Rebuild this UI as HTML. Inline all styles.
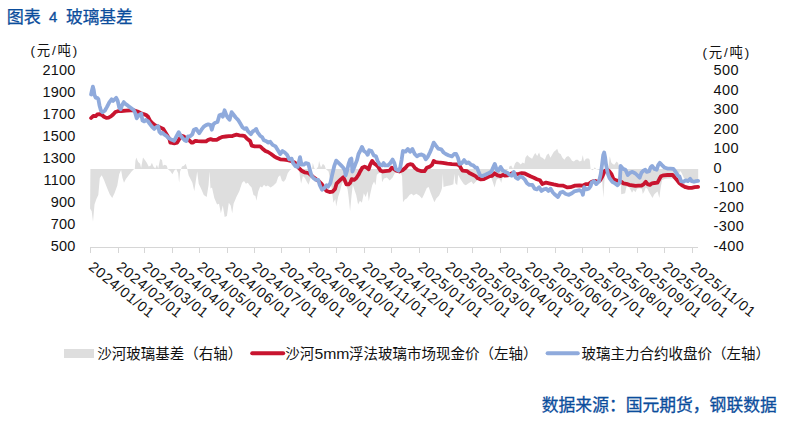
<!DOCTYPE html>
<html lang="zh">
<head>
<meta charset="utf-8">
<title>图表 4 玻璃基差</title>
<style>
html,body{margin:0;padding:0;background:#fff}
body{width:789px;height:423px;overflow:hidden;position:relative;font-family:"Liberation Sans","Noto Sans CJK SC",sans-serif}
svg{position:absolute;left:0;top:0;display:block}
svg text{font-family:"Liberation Sans","Noto Sans CJK SC",sans-serif}
</style>
</head>
<body>
<svg width="789" height="423" viewBox="0 0 789 423">
<rect width="789" height="423" fill="#ffffff"/>
<polygon points="90.4,169.0 90.1,208.4 91.7,211.3 93.0,221.8 94.5,204.6 96.4,198.9 98.3,195.1 99.8,178.0 101.7,175.2 104.0,179.9 106.9,187.5 109.7,194.2 112.2,198.0 114.5,193.2 117.3,185.6 119.2,174.2 121.1,170.0 122.5,178.0 124.0,182.8 125.9,179.0 128.7,175.2 131.6,171.4 134.1,169.1 134.8,169.1 135.4,160.9 136.3,157.5 138.2,161.9 140.1,163.8 141.1,168.1 143.0,157.5 144.9,160.0 146.8,162.8 148.7,166.6 150.6,165.7 151.9,162.8 153.4,166.6 155.3,168.5 156.9,164.7 158.2,168.5 160.1,159.0 162.0,160.0 162.9,165.7 164.8,164.7 166.8,165.7 167.7,169.1 170.6,171.4 172.4,174.2 174.3,170.4 176.2,169.1 178.2,173.3 179.1,182.8 180.1,171.4 182.0,166.6 183.9,165.7 185.8,163.8 187.3,169.1 188.6,175.2 190.5,179.0 192.4,182.8 194.3,191.3 195.8,180.9 197.2,171.4 198.7,183.7 201.0,188.5 203.8,195.1 206.7,197.0 208.6,184.7 209.5,171.4 210.5,188.5 212.0,187.5 214.3,198.0 217.1,204.6 219.0,203.7 220.9,213.2 222.8,205.6 224.7,217.0 226.9,216.1 228.8,202.7 230.7,205.6 232.2,213.2 233.6,203.7 236.4,197.0 239.3,191.3 242.1,182.8 244.0,180.9 245.9,183.7 247.8,182.8 249.7,185.6 251.6,187.5 253.5,195.1 255.4,196.1 256.4,200.8 258.3,191.3 260.2,186.6 262.1,187.5 264.0,184.7 265.9,186.6 267.8,185.6 270.6,187.5 273.5,185.6 276.3,182.8 278.2,177.1 280.1,175.2 282.0,180.9 283.9,181.8 285.8,179.0 287.7,173.3 289.6,170.4 291.5,169.1 299.1,169.1 300.1,178.0 301.1,183.7 302.9,176.1 304.9,178.0 306.8,181.8 308.6,184.7 310.6,178.0 312.1,169.1 312.8,162.8 314.4,168.5 316.2,169.5 318.2,166.6 319.1,160.9 320.1,164.7 321.0,167.6 322.9,163.8 324.8,165.7 325.8,169.1 328.6,171.4 331.5,187.5 333.4,202.7 335.3,198.9 336.2,206.5 338.1,197.0 340.0,191.3 341.9,183.7 343.8,179.9 345.7,183.7 347.6,189.4 348.6,197.0 350.1,211.3 351.4,197.0 352.8,184.7 354.3,189.4 356.2,195.1 358.1,204.6 360.0,200.8 361.9,202.7 363.8,193.2 365.7,197.0 367.6,191.3 368.8,201.3 370.3,193.7 372.2,185.2 374.1,181.4 375.5,185.2 376.8,174.7 379.3,172.8 381.2,171.9 382.1,182.3 384.0,178.5 386.9,177.6 389.7,180.4 392.6,177.6 394.5,173.8 396.4,170.9 400.2,170.0 402.1,176.6 403.0,202.3 404.9,199.4 406.8,198.5 409.7,194.7 411.6,193.7 413.5,195.6 416.3,193.7 419.2,195.6 422.0,198.5 423.9,194.7 426.8,188.0 428.7,187.1 430.6,192.8 432.5,197.5 434.4,202.3 436.3,198.5 439.1,195.6 441.1,190.9 442.0,188.0 442.8,173.8 443.5,187.1 446.8,186.1 450.6,185.2 453.4,184.2 454.4,173.8 455.3,183.3 457.2,185.2 458.2,174.7 460.1,178.5 462.0,181.4 463.9,184.2 465.8,185.2 468.6,183.3 471.5,181.4 473.4,184.2 475.3,182.3 476.9,180.4 478.9,177.9 481.4,175.8 484.5,175.3 487.5,175.3 490.6,176.3 492.6,181.4 494.6,187.5 495.6,183.5 496.7,179.4 498.7,178.4 500.2,179.9 501.2,182.9 501.9,179.4 503.3,176.3 504.8,173.8 506.3,171.3 507.9,169.2 508.9,169.0 509.3,166.4 511.2,165.4 513.1,169.0 515.0,163.5 516.9,161.6 518.8,162.6 520.7,164.5 522.6,162.6 524.5,163.5 525.4,157.8 527.3,155.0 529.2,156.9 532.1,158.8 534.0,155.0 535.3,153.1 537.2,155.9 539.1,152.5 540.6,156.9 542.5,157.8 544.8,159.7 546.7,155.0 548.6,153.6 550.5,157.8 552.0,155.0 553.9,151.7 555.8,150.2 557.2,148.7 558.7,153.1 560.6,154.0 562.5,157.8 564.4,159.7 566.3,156.9 568.2,155.9 570.1,157.8 572.0,160.7 573.9,161.6 575.8,159.7 577.7,159.7 579.6,161.6 581.5,160.7 582.8,155.0 584.0,161.6 585.9,158.8 588.2,158.2 589.7,159.7 590.6,169.0 592.9,170.2 594.8,167.3 596.1,169.0 601.5,171.1 603.4,197.7 604.3,182.5 605.3,169.0 608.2,168.9 609.8,156.3 611.3,162.4 612.8,163.9 614.3,164.7 616.6,161.6 618.1,163.1 619.7,168.9 620.4,168.9 621.2,194.3 622.3,193.9 625.1,193.3 626.3,187.6 628.0,185.4 630.3,189.3 632.0,192.8 633.7,189.9 635.4,192.2 637.1,188.8 639.4,188.2 641.7,188.8 642.8,193.9 644.5,191.1 645.7,187.6 647.4,188.8 649.1,192.2 650.8,195.1 652.5,197.9 654.2,194.5 655.9,192.8 657.6,191.6 659.4,197.9 660.5,188.8 661.3,184.2 662.2,179.9 665.6,178.7 669.0,178.5 673.0,178.5 678.5,178.1 679.7,171.6 680.5,171.3 681.7,173.0 682.9,175.8 684.0,178.2 686.0,179.1 688.4,180.2 693.0,179.9 698.1,179.9 698.2,179.9 698.2,169.0" fill="#dedede"/>
<g stroke="#d6d6d6" stroke-width="1" fill="none" shape-rendering="crispEdges">
<line x1="90.4" y1="247.1" x2="698.2" y2="247.1"/>
<line x1="90.5" y1="247.1" x2="90.5" y2="253.1"/>
<line x1="118.4" y1="247.1" x2="118.4" y2="253.1"/>
<line x1="144.4" y1="247.1" x2="144.4" y2="253.1"/>
<line x1="172.3" y1="247.1" x2="172.3" y2="253.1"/>
<line x1="199.2" y1="247.1" x2="199.2" y2="253.1"/>
<line x1="227.1" y1="247.1" x2="227.1" y2="253.1"/>
<line x1="254.0" y1="247.1" x2="254.0" y2="253.1"/>
<line x1="281.9" y1="247.1" x2="281.9" y2="253.1"/>
<line x1="309.7" y1="247.1" x2="309.7" y2="253.1"/>
<line x1="336.7" y1="247.1" x2="336.7" y2="253.1"/>
<line x1="364.5" y1="247.1" x2="364.5" y2="253.1"/>
<line x1="391.5" y1="247.1" x2="391.5" y2="253.1"/>
<line x1="419.4" y1="247.1" x2="419.4" y2="253.1"/>
<line x1="447.2" y1="247.1" x2="447.2" y2="253.1"/>
<line x1="472.4" y1="247.1" x2="472.4" y2="253.1"/>
<line x1="500.2" y1="247.1" x2="500.2" y2="253.1"/>
<line x1="527.2" y1="247.1" x2="527.2" y2="253.1"/>
<line x1="555.0" y1="247.1" x2="555.0" y2="253.1"/>
<line x1="582.0" y1="247.1" x2="582.0" y2="253.1"/>
<line x1="609.8" y1="247.1" x2="609.8" y2="253.1"/>
<line x1="637.7" y1="247.1" x2="637.7" y2="253.1"/>
<line x1="664.6" y1="247.1" x2="664.6" y2="253.1"/>
<line x1="692.5" y1="247.1" x2="692.5" y2="253.1"/>
</g>
<polyline points="91.1,118.0 93.4,115.8 95.7,116.1 97.2,114.5 99.5,114.2 101.7,114.8 104.0,116.8 106.3,117.9 108.6,117.6 110.9,116.4 113.1,114.5 115.4,112.0 117.7,111.2 121.5,111.0 126.1,110.7 130.6,110.4 133.7,110.3 137.5,111.5 140.5,113.0 143.6,114.2 145.8,114.8 148.1,116.8 149.6,119.9 151.9,122.9 155.0,125.2 158.0,126.4 161.1,127.9 163.3,129.0 165.6,132.8 167.9,136.6 169.4,138.9 170.3,142.6 172.6,143.0 174.9,143.3 177.2,142.6 179.4,138.8 181.7,135.7 184.0,136.5 186.3,138.8 189.3,140.3 191.6,142.6 193.1,142.6 195.4,140.8 197.7,141.1 201.5,141.4 206.1,141.4 208.3,139.8 210.6,139.2 212.9,139.8 216.7,139.8 219.8,138.0 222.8,136.8 225.8,136.5 228.9,136.2 231.9,136.2 234.2,135.3 236.5,134.7 239.5,135.3 242.6,135.7 244.8,136.2 247.1,138.8 250.2,141.1 251.7,145.6 254.7,146.4 260.1,146.4 262.3,148.4 265.4,150.9 268.0,152.0 271.1,154.0 274.1,156.3 277.2,158.1 280.2,159.3 284.0,159.6 287.8,160.1 291.6,161.2 294.7,162.4 296.2,164.7 298.5,167.7 301.5,170.7 304.5,172.3 308.4,173.0 310.6,174.8 312.9,176.8 315.9,179.1 319.0,181.4 322.0,184.4 324.3,188.2 326.6,191.0 329.6,192.0 332.7,191.6 335.0,189.0 336.5,183.7 338.8,181.4 341.1,179.1 343.3,177.3 344.9,180.6 346.4,184.4 348.6,184.4 350.2,182.9 351.7,179.1 354.0,179.9 356.2,178.3 358.5,174.8 360.1,171.5 362.3,167.7 364.6,166.6 366.9,167.7 368.7,169.2 370.2,164.7 372.2,160.9 373.8,163.1 376.0,164.7 378.3,166.9 380.6,170.7 382.9,171.5 385.0,171.1 389.6,170.7 391.8,167.7 394.1,169.2 396.4,170.7 399.4,171.5 402.5,170.3 405.5,167.7 407.8,165.0 410.1,164.2 412.4,164.7 414.7,167.7 417.7,170.0 421.5,171.2 424.5,171.2 426.8,167.7 429.9,166.6 432.1,164.7 433.7,160.9 435.9,162.1 438.2,162.4 442.8,162.8 447.4,163.6 451.9,164.2 456.5,164.3 459.5,165.4 461.1,168.5 462.6,170.7 467.1,171.1 469.4,173.0 472.4,174.5 475.5,176.1 477.8,178.3 480.8,179.4 483.9,179.1 486.9,177.6 489.9,176.1 492.2,175.8 494.5,173.3 497.6,175.3 500.6,176.1 502.9,174.8 505.0,175.7 508.0,175.3 511.1,173.8 513.4,172.7 515.6,174.2 518.7,173.8 521.7,173.2 524.8,173.5 527.8,175.0 530.9,176.5 533.9,177.7 536.9,179.2 540.0,180.3 542.3,184.1 546.1,182.6 549.1,183.3 553.7,184.4 558.2,185.3 562.8,185.6 567.4,187.4 570.4,187.2 575.0,185.6 579.5,185.3 582.6,185.6 585.6,184.1 588.6,184.1 591.7,181.8 594.7,180.8 597.8,181.8 600.1,180.3 602.3,176.5 604.6,171.2 606.9,169.7 609.2,171.2 611.5,174.2 613.3,178.8 616.0,180.3 619.1,181.1 621.4,181.8 623.2,183.3 626.3,183.8 629.3,184.9 632.4,185.3 635.4,185.9 638.5,185.6 641.5,185.6 643.8,184.1 645.8,181.8 647.6,184.1 649.9,184.9 652.1,183.3 654.4,183.0 657.5,182.6 659.5,178.8 661.0,176.2 663.6,175.3 667.4,175.0 672.7,175.0 675.0,177.7 677.2,180.3 679.5,183.3 682.6,185.6 685.6,187.2 688.6,187.9 691.7,187.9 694.7,187.2 698.1,186.8" fill="none" stroke="#c8142f" stroke-width="3.80" stroke-linejoin="round" stroke-linecap="round"/>
<polyline points="91.1,94.5 92.0,90.2 92.9,86.6 93.8,90.2 94.4,94.8 95.7,97.8 97.2,97.8 98.4,99.3 99.5,105.4 101.0,110.7 102.5,112.3 104.8,110.7 107.0,106.9 109.3,102.4 111.6,99.3 113.1,100.9 114.7,99.3 116.2,97.8 117.7,100.9 119.2,107.7 120.7,109.2 122.3,104.7 123.8,102.1 125.3,103.9 127.6,105.4 130.6,107.7 133.7,110.0 135.2,113.0 136.7,118.3 138.2,116.1 139.8,114.5 141.3,113.8 142.5,120.6 144.3,121.4 145.8,119.9 148.1,121.4 149.6,123.7 151.9,126.7 154.2,129.0 155.7,127.5 158.0,126.0 159.5,132.0 161.1,133.6 162.6,132.8 164.1,134.3 166.4,135.8 168.7,138.1 171.8,139.8 174.1,140.8 176.4,136.5 178.7,132.2 180.2,135.0 182.5,138.0 184.8,140.3 186.3,141.1 187.8,136.5 190.1,136.2 192.4,134.2 193.9,129.7 196.2,128.9 197.7,131.2 199.2,133.2 201.5,129.7 203.8,126.6 206.1,125.1 208.3,124.3 210.6,125.1 211.8,129.7 213.4,124.3 215.2,122.8 217.5,122.0 219.4,115.2 221.3,114.5 222.8,116.7 224.6,110.3 226.1,114.5 227.7,117.5 229.6,119.8 231.6,112.2 233.4,114.5 235.7,117.5 238.0,119.8 240.3,123.6 242.6,127.4 244.4,128.9 246.4,128.1 247.9,131.2 249.4,132.7 250.9,134.2 252.9,131.2 254.7,130.4 256.2,128.9 257.8,132.7 260.1,135.7 262.3,137.3 263.9,140.3 266.1,141.1 268.0,142.6 270.3,141.8 272.6,144.9 275.6,146.4 277.9,150.2 280.2,154.0 282.5,151.0 284.8,152.5 287.1,154.8 289.3,159.3 291.6,158.6 293.1,163.1 295.4,166.2 297.7,166.9 300.0,157.1 301.5,164.7 303.8,164.7 305.8,163.1 308.4,163.9 309.9,170.0 311.4,175.3 313.7,178.3 315.9,179.9 318.2,179.9 319.8,185.2 322.0,189.8 324.3,188.2 326.6,185.2 328.1,186.7 330.4,182.9 331.9,176.1 334.2,166.2 336.2,160.6 338.8,163.1 341.1,165.4 343.3,167.7 344.9,170.7 345.6,175.3 347.1,170.7 348.6,163.9 350.2,159.3 351.4,158.6 352.4,171.5 354.0,167.7 355.5,163.9 357.0,160.1 358.5,154.0 360.1,151.0 362.0,146.9 363.9,151.0 366.1,152.5 367.7,154.8 369.2,150.2 371.5,151.0 373.8,155.5 376.0,156.3 377.6,160.9 379.8,164.7 382.1,165.4 383.6,163.1 385.0,165.4 388.0,165.4 390.3,163.1 392.6,159.6 394.4,163.1 395.9,169.2 398.4,170.7 400.2,167.7 401.7,159.3 402.9,151.0 405.5,151.7 407.8,149.0 410.1,151.7 412.4,149.0 414.7,154.0 416.9,156.3 419.2,154.8 421.5,154.5 423.8,155.5 425.8,159.3 427.6,157.1 429.9,152.5 431.8,147.9 433.7,142.6 435.9,145.7 438.2,148.7 441.3,149.4 443.6,152.5 445.8,154.0 448.9,155.5 451.9,156.3 454.2,154.0 456.2,154.0 458.0,157.8 459.5,163.9 461.8,163.1 464.1,160.1 466.4,163.1 468.6,162.4 470.9,164.7 473.2,165.4 475.5,167.7 477.0,167.7 478.5,171.5 480.1,175.3 482.3,176.1 485.4,174.8 488.4,173.3 491.5,171.5 493.0,167.7 494.8,163.9 496.8,170.0 498.3,170.7 500.6,166.9 502.9,170.7 505.0,171.9 507.3,172.7 509.6,175.0 511.8,175.7 513.8,171.9 515.6,177.3 517.9,178.8 520.2,176.5 522.5,177.3 524.8,179.5 527.0,183.3 529.3,184.9 532.4,184.9 534.7,188.7 536.9,189.4 539.2,187.2 541.5,190.9 543.8,189.4 546.1,188.7 548.4,190.9 550.6,188.7 552.9,192.5 555.2,194.8 557.9,197.0 560.5,192.5 562.8,191.7 565.8,194.0 568.9,194.8 571.9,193.2 574.2,191.4 576.5,190.9 579.5,190.2 581.8,191.7 582.9,194.8 584.1,187.2 586.4,189.4 588.6,188.7 590.5,186.4 591.7,182.6 594.0,181.1 596.2,184.1 599.1,181.1 600.7,174.2 602.0,165.1 603.2,155.2 604.2,152.5 605.2,157.9 606.1,164.9 607.2,170.4 608.1,174.5 609.5,178.0 611.0,180.0 612.5,182.0 614.5,182.9 617.5,185.3 619.8,182.6 620.6,165.9 623.2,168.9 625.5,169.7 627.8,175.0 630.1,172.7 632.4,171.9 635.4,173.5 637.7,175.7 639.7,177.7 641.5,172.7 643.8,170.4 645.3,169.7 646.8,171.9 649.1,171.2 650.6,167.4 652.1,165.9 654.4,168.9 656.7,169.7 658.2,165.1 659.8,162.8 662.0,165.1 664.3,167.4 667.4,168.6 670.4,168.6 673.4,168.9 675.7,171.9 678.0,175.7 679.5,176.5 681.0,181.1 683.3,181.8 685.6,180.3 687.9,181.1 690.2,178.8 691.7,181.1 694.0,181.8 696.2,181.1 698.1,180.8" fill="none" stroke="#8faadc" stroke-width="3.80" stroke-linejoin="round" stroke-linecap="round"/>
<g font-size="14.50px" fill="#111111" letter-spacing="0.25">
<text x="75.7" y="75.3" text-anchor="end">2100</text>
<text x="75.7" y="97.2" text-anchor="end">1900</text>
<text x="75.7" y="119.1" text-anchor="end">1700</text>
<text x="75.7" y="141.0" text-anchor="end">1500</text>
<text x="75.7" y="162.9" text-anchor="end">1300</text>
<text x="75.7" y="184.8" text-anchor="end">1100</text>
<text x="75.7" y="206.7" text-anchor="end">900</text>
<text x="75.7" y="228.6" text-anchor="end">700</text>
<text x="75.7" y="250.5" text-anchor="end">500</text>
<text x="713.4" y="75.3" letter-spacing="0.45">500</text>
<text x="713.4" y="94.8" letter-spacing="0.45">400</text>
<text x="713.4" y="114.2" letter-spacing="0.45">300</text>
<text x="713.4" y="133.7" letter-spacing="0.45">200</text>
<text x="713.4" y="153.2" letter-spacing="0.45">100</text>
<text x="713.4" y="172.6" letter-spacing="0.45">0</text>
<text x="713.4" y="192.1" letter-spacing="0.45">-100</text>
<text x="713.4" y="211.6" letter-spacing="0.45">-200</text>
<text x="713.4" y="231.0" letter-spacing="0.45">-300</text>
<text x="713.4" y="250.5" letter-spacing="0.45">-400</text>
</g>
<g font-size="14.50px" fill="#111111" letter-spacing="0.70">
<text transform="translate(87.8 268.6) rotate(39.00)">2024/01/01</text>
<text transform="translate(115.7 268.6) rotate(39.00)">2024/02/01</text>
<text transform="translate(141.7 268.6) rotate(39.00)">2024/03/01</text>
<text transform="translate(169.6 268.6) rotate(39.00)">2024/04/01</text>
<text transform="translate(196.5 268.6) rotate(39.00)">2024/05/01</text>
<text transform="translate(224.4 268.6) rotate(39.00)">2024/06/01</text>
<text transform="translate(251.3 268.6) rotate(39.00)">2024/07/01</text>
<text transform="translate(279.2 268.6) rotate(39.00)">2024/08/01</text>
<text transform="translate(307.0 268.6) rotate(39.00)">2024/09/01</text>
<text transform="translate(334.0 268.6) rotate(39.00)">2024/10/01</text>
<text transform="translate(361.8 268.6) rotate(39.00)">2024/11/01</text>
<text transform="translate(388.8 268.6) rotate(39.00)">2024/12/01</text>
<text transform="translate(416.7 268.6) rotate(39.00)">2025/01/01</text>
<text transform="translate(444.5 268.6) rotate(39.00)">2025/02/01</text>
<text transform="translate(469.7 268.6) rotate(39.00)">2025/03/01</text>
<text transform="translate(497.5 268.6) rotate(39.00)">2025/04/01</text>
<text transform="translate(524.5 268.6) rotate(39.00)">2025/05/01</text>
<text transform="translate(552.3 268.6) rotate(39.00)">2025/06/01</text>
<text transform="translate(579.3 268.6) rotate(39.00)">2025/07/01</text>
<text transform="translate(607.1 268.6) rotate(39.00)">2025/08/01</text>
<text transform="translate(635.0 268.6) rotate(39.00)">2025/09/01</text>
<text transform="translate(661.9 268.6) rotate(39.00)">2025/10/01</text>
<text transform="translate(689.8 268.6) rotate(39.00)">2025/11/01</text>
</g>
<text x="30.6" y="54.7" font-size="13.4" fill="#111111" textLength="46.5" lengthAdjust="spacing">(元/吨)</text>
<text x="702.6" y="56.5" font-size="13.4" fill="#111111" textLength="46.5" lengthAdjust="spacing">(元/吨)</text>
<text x="6.7" y="22.6" font-size="17.1" fill="#0b4d9c" stroke="#0b4d9c" stroke-width="0.25">图表</text>
<text x="49.0" y="21.9" font-size="14.9px" fill="#0b4d9c" stroke="#0b4d9c" stroke-width="0.35">4</text>
<text x="66.0" y="22.6" font-size="16.7" fill="#0b4d9c" stroke="#0b4d9c" stroke-width="0.25">玻璃基差</text>
<rect x="64" y="349" width="30" height="9" fill="#dedede"/>
<text x="97.3" y="359.05" font-size="14.5" fill="#111111">沙河玻璃基差（右轴）</text>
<line x1="252.2" y1="353.2" x2="283.2" y2="353.2" stroke="#c8142f" stroke-width="4" stroke-linecap="round"/>
<text x="285.2" y="359.05" font-size="14.5" fill="#111111">沙河</text>
<text x="314.5" y="358.7" font-size="15px" fill="#111111" textLength="35.0" lengthAdjust="spacingAndGlyphs">5mm</text>
<text x="349.0" y="359.05" font-size="14.5" fill="#111111">浮法玻璃市场现金价（左轴）</text>
<line x1="547.6" y1="353.2" x2="577.8" y2="353.2" stroke="#8faadc" stroke-width="4" stroke-linecap="round"/>
<text x="581.6" y="359.05" font-size="14.5" fill="#111111">玻璃主力合约收盘价（左轴）</text>
<text x="541.8" y="410.6" font-size="16.8" fill="#0b4d9c" stroke="#0b4d9c" stroke-width="0.3">数据来源：国元期货，钢联数据</text>
</svg>
</body>
</html>
